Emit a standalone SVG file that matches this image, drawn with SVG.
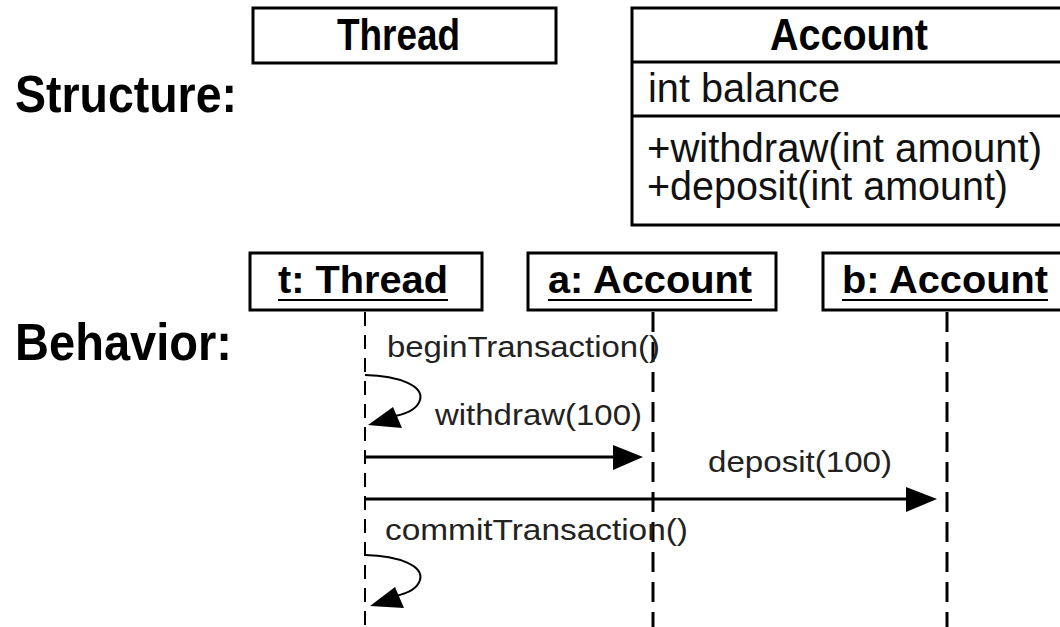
<svg xmlns="http://www.w3.org/2000/svg" width="1060" height="627" viewBox="0 0 1060 627">
<style>
.box{fill:#fff;stroke:#000;stroke-width:3}
.sep{stroke:#000;stroke-width:3}
.hdr{font-family:"Liberation Sans",Arial,sans-serif;font-weight:bold;fill:#000}
.big{font-size:52px}
.cls{font-size:44px}
.obj{font-size:39px}
.attr{font-family:"Liberation Sans",Arial,sans-serif;font-size:40px;fill:#111}
.msg{font-family:"Liberation Sans",Arial,sans-serif;font-size:30px;fill:#222}
.ul{stroke:#000;stroke-width:2}
.life{stroke:#000;fill:none}
.arrow{stroke:#000;stroke-width:3;fill:none}
.loop{stroke:#000;stroke-width:2;fill:none}
.head{fill:#000;stroke:none}
</style>
<rect width="1060" height="627" fill="#fff"/>
<g id="labels">
<text class="hdr big" x="15" y="112" textLength="222" lengthAdjust="spacingAndGlyphs">Structure:</text>
<text class="hdr big" x="15" y="360" textLength="217" lengthAdjust="spacingAndGlyphs">Behavior:</text>
</g>
<g id="class-thread">
<rect class="box" x="253" y="8" width="303" height="55"/>
<text class="hdr cls" x="337" y="50" textLength="123" lengthAdjust="spacingAndGlyphs">Thread</text>
</g>
<g id="class-account">
<rect class="box" x="632" y="8" width="432" height="217"/>
<line class="sep" x1="632" y1="62" x2="1062" y2="62"/>
<line class="sep" x1="632" y1="116" x2="1062" y2="116"/>
<text class="hdr cls" x="770" y="50" textLength="158" lengthAdjust="spacingAndGlyphs">Account</text>
<text class="attr" x="648" y="102" textLength="192" lengthAdjust="spacingAndGlyphs">int balance</text>
<text class="attr" x="647" y="162" textLength="395" lengthAdjust="spacingAndGlyphs">+withdraw(int amount)</text>
<text class="attr" x="647" y="200" textLength="361" lengthAdjust="spacingAndGlyphs">+deposit(int amount)</text>
</g>
<g id="obj-t">
<rect class="box" x="250" y="253" width="232" height="57"/>
<text class="hdr obj" x="278" y="293" textLength="170" lengthAdjust="spacingAndGlyphs">t: Thread</text>
<line class="ul" x1="278" y1="300" x2="448" y2="300"/>
</g>
<g id="obj-a">
<rect class="box" x="528" y="253" width="248" height="57"/>
<text class="hdr obj" x="548" y="293" textLength="204" lengthAdjust="spacingAndGlyphs">a: Account</text>
<line class="ul" x1="548" y1="300" x2="752" y2="300"/>
</g>
<g id="obj-b">
<rect class="box" x="823" y="253" width="242" height="57"/>
<text class="hdr obj" x="842" y="293" textLength="206" lengthAdjust="spacingAndGlyphs">b: Account</text>
<line class="ul" x1="842" y1="300" x2="1048" y2="300"/>
</g>
<g id="connectors">
<line class="life" x1="365" y1="312" x2="365" y2="627" stroke-width="2" stroke-dasharray="14 9"/>
<line class="life" x1="653" y1="312" x2="653" y2="627" stroke-width="3" stroke-dasharray="20 10"/>
<line class="life" x1="947" y1="312" x2="947" y2="627" stroke-width="3" stroke-dasharray="20 10"/>
<path class="loop" d="M365,375 C400,376 424,386 420,400 C417,410 405,414 395,416"/>
<polygon class="head" points="368,425 393,407 402,428"/>
<line class="arrow" x1="365" y1="457" x2="616" y2="457"/>
<polygon class="head" points="643,457 613,445 613,470"/>
<line class="arrow" x1="365" y1="499" x2="909" y2="499"/>
<polygon class="head" points="937,499 906,487 906,512"/>
<path class="loop" d="M365,555 C400,556 424,566 420,580 C417,590 405,594 395,596"/>
<polygon class="head" points="370,606 395,587 404,608"/>
</g>
<g id="messages">
<text class="msg" x="387" y="357" textLength="273" lengthAdjust="spacingAndGlyphs">beginTransaction()</text>
<text class="msg" x="435" y="425" textLength="207" lengthAdjust="spacingAndGlyphs">withdraw(100)</text>
<text class="msg" x="708" y="472" textLength="184" lengthAdjust="spacingAndGlyphs">deposit(100)</text>
<text class="msg" x="385" y="540" textLength="303" lengthAdjust="spacingAndGlyphs">commitTransaction()</text>
</g>
</svg>
